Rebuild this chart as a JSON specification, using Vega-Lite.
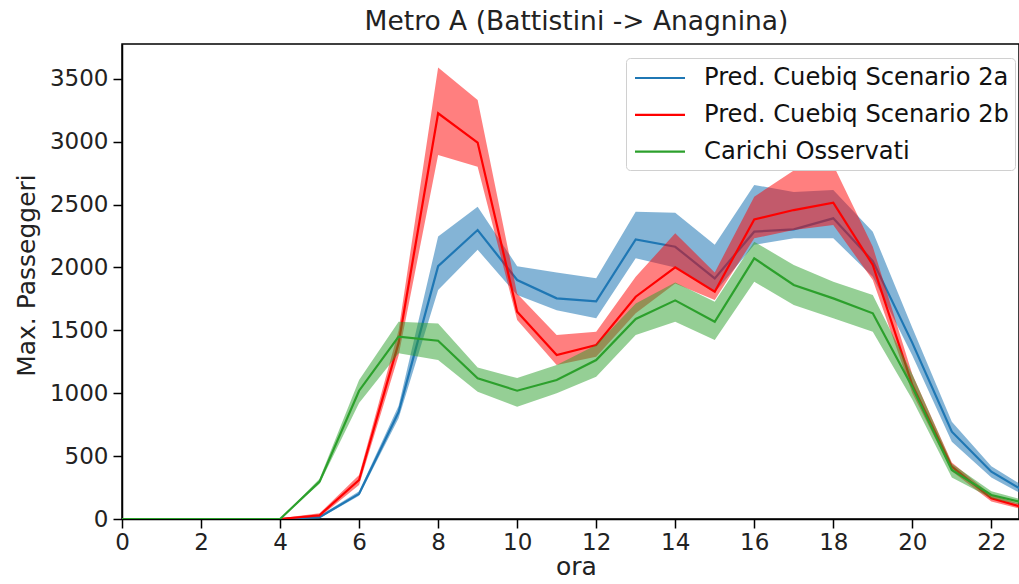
{
  "$schema": "https://vega.github.io/schema/vega-lite/v6.json",
  "width": 897,
  "height": 475,
  "autosize": {"type": "none"},
  "padding": {"left": 122, "top": 44, "right": 0, "bottom": 65},
  "background": "white",
  "config": {
    "font": "DejaVu Sans",
    "view": {"stroke": "black", "strokeWidth": 1.5},
    "axis": {
      "domainColor": "black", "domainWidth": 1.5, "tickColor": "black", "tickWidth": 1.5, "tickSize": 9,
      "labelFontSize": 23, "labelColor": "#222", "titleFontSize": 25, "titleFontWeight": "normal", "titleColor": "#222",
      "grid": false, "labelFont": "DejaVu Sans", "titleFont": "DejaVu Sans", "format": "d"
    },
    "legend": {"labelFont": "DejaVu Sans"}
  },
  "title": {"text": "Metro A (Battistini -> Anagnina)", "fontSize": 26.5, "fontWeight": "normal", "color": "#222", "font": "DejaVu Sans", "offset": 9, "dx": 6},
  "data": {"values": [
    {"ora":0,"serie":"Pred. Cuebiq Scenario 2a","v":0,"lo":0,"hi":0},
    {"ora":1,"serie":"Pred. Cuebiq Scenario 2a","v":0,"lo":0,"hi":0},
    {"ora":2,"serie":"Pred. Cuebiq Scenario 2a","v":0,"lo":0,"hi":0},
    {"ora":3,"serie":"Pred. Cuebiq Scenario 2a","v":0,"lo":0,"hi":0},
    {"ora":4,"serie":"Pred. Cuebiq Scenario 2a","v":0,"lo":0,"hi":5},
    {"ora":5,"serie":"Pred. Cuebiq Scenario 2a","v":15,"lo":5,"hi":25},
    {"ora":6,"serie":"Pred. Cuebiq Scenario 2a","v":200,"lo":185,"hi":220},
    {"ora":7,"serie":"Pred. Cuebiq Scenario 2a","v":850,"lo":800,"hi":900},
    {"ora":8,"serie":"Pred. Cuebiq Scenario 2a","v":2010,"lo":1820,"hi":2245},
    {"ora":9,"serie":"Pred. Cuebiq Scenario 2a","v":2297,"lo":2140,"hi":2483},
    {"ora":10,"serie":"Pred. Cuebiq Scenario 2a","v":1900,"lo":1780,"hi":2010},
    {"ora":11,"serie":"Pred. Cuebiq Scenario 2a","v":1754,"lo":1660,"hi":1960},
    {"ora":12,"serie":"Pred. Cuebiq Scenario 2a","v":1730,"lo":1595,"hi":1913},
    {"ora":13,"serie":"Pred. Cuebiq Scenario 2a","v":2223,"lo":2072,"hi":2443},
    {"ora":14,"serie":"Pred. Cuebiq Scenario 2a","v":2164,"lo":2000,"hi":2435},
    {"ora":15,"serie":"Pred. Cuebiq Scenario 2a","v":1913,"lo":1800,"hi":2180},
    {"ora":16,"serie":"Pred. Cuebiq Scenario 2a","v":2284,"lo":2180,"hi":2655},
    {"ora":17,"serie":"Pred. Cuebiq Scenario 2a","v":2303,"lo":2231,"hi":2600},
    {"ora":18,"serie":"Pred. Cuebiq Scenario 2a","v":2390,"lo":2231,"hi":2615},
    {"ora":19,"serie":"Pred. Cuebiq Scenario 2a","v":2050,"lo":1926,"hi":2284},
    {"ora":20,"serie":"Pred. Cuebiq Scenario 2a","v":1400,"lo":1300,"hi":1520},
    {"ora":21,"serie":"Pred. Cuebiq Scenario 2a","v":694,"lo":614,"hi":773},
    {"ora":22,"serie":"Pred. Cuebiq Scenario 2a","v":376,"lo":330,"hi":420},
    {"ora":23,"serie":"Pred. Cuebiq Scenario 2a","v":190,"lo":160,"hi":225},
    {"ora":0,"serie":"Pred. Cuebiq Scenario 2b","v":0,"lo":0,"hi":0},
    {"ora":1,"serie":"Pred. Cuebiq Scenario 2b","v":0,"lo":0,"hi":0},
    {"ora":2,"serie":"Pred. Cuebiq Scenario 2b","v":0,"lo":0,"hi":0},
    {"ora":3,"serie":"Pred. Cuebiq Scenario 2b","v":0,"lo":0,"hi":0},
    {"ora":4,"serie":"Pred. Cuebiq Scenario 2b","v":0,"lo":0,"hi":5},
    {"ora":5,"serie":"Pred. Cuebiq Scenario 2b","v":30,"lo":15,"hi":45},
    {"ora":6,"serie":"Pred. Cuebiq Scenario 2b","v":310,"lo":270,"hi":350},
    {"ora":7,"serie":"Pred. Cuebiq Scenario 2b","v":1400,"lo":1300,"hi":1500},
    {"ora":8,"serie":"Pred. Cuebiq Scenario 2b","v":3225,"lo":2893,"hi":3590},
    {"ora":9,"serie":"Pred. Cuebiq Scenario 2b","v":2992,"lo":2800,"hi":3331},
    {"ora":10,"serie":"Pred. Cuebiq Scenario 2b","v":1648,"lo":1582,"hi":1790},
    {"ora":11,"serie":"Pred. Cuebiq Scenario 2b","v":1304,"lo":1224,"hi":1463},
    {"ora":12,"serie":"Pred. Cuebiq Scenario 2b","v":1383,"lo":1290,"hi":1489},
    {"ora":13,"serie":"Pred. Cuebiq Scenario 2b","v":1767,"lo":1635,"hi":1926},
    {"ora":14,"serie":"Pred. Cuebiq Scenario 2b","v":2001,"lo":1873,"hi":2271},
    {"ora":15,"serie":"Pred. Cuebiq Scenario 2b","v":1807,"lo":1741,"hi":1960},
    {"ora":16,"serie":"Pred. Cuebiq Scenario 2b","v":2382,"lo":2231,"hi":2562},
    {"ora":17,"serie":"Pred. Cuebiq Scenario 2b","v":2456,"lo":2297,"hi":2770},
    {"ora":18,"serie":"Pred. Cuebiq Scenario 2b","v":2514,"lo":2337,"hi":2814},
    {"ora":19,"serie":"Pred. Cuebiq Scenario 2b","v":2019,"lo":1900,"hi":2164},
    {"ora":20,"serie":"Pred. Cuebiq Scenario 2b","v":1065,"lo":1000,"hi":1150},
    {"ora":21,"serie":"Pred. Cuebiq Scenario 2b","v":416,"lo":380,"hi":450},
    {"ora":22,"serie":"Pred. Cuebiq Scenario 2b","v":164,"lo":140,"hi":190},
    {"ora":23,"serie":"Pred. Cuebiq Scenario 2b","v":75,"lo":60,"hi":95},
    {"ora":0,"serie":"Carichi Osservati","v":0,"lo":0,"hi":0},
    {"ora":1,"serie":"Carichi Osservati","v":0,"lo":0,"hi":0},
    {"ora":2,"serie":"Carichi Osservati","v":0,"lo":0,"hi":0},
    {"ora":3,"serie":"Carichi Osservati","v":0,"lo":0,"hi":0},
    {"ora":4,"serie":"Carichi Osservati","v":0,"lo":0,"hi":0},
    {"ora":5,"serie":"Carichi Osservati","v":297,"lo":280,"hi":320},
    {"ora":6,"serie":"Carichi Osservati","v":1020,"lo":922,"hi":1105},
    {"ora":7,"serie":"Carichi Osservati","v":1449,"lo":1317,"hi":1568},
    {"ora":8,"serie":"Carichi Osservati","v":1417,"lo":1264,"hi":1555},
    {"ora":9,"serie":"Carichi Osservati","v":1118,"lo":1012,"hi":1205},
    {"ora":10,"serie":"Carichi Osservati","v":1020,"lo":893,"hi":1120},
    {"ora":11,"serie":"Carichi Osservati","v":1105,"lo":999,"hi":1224},
    {"ora":12,"serie":"Carichi Osservati","v":1264,"lo":1131,"hi":1383},
    {"ora":13,"serie":"Carichi Osservati","v":1590,"lo":1463,"hi":1714},
    {"ora":14,"serie":"Carichi Osservati","v":1738,"lo":1568,"hi":1880},
    {"ora":15,"serie":"Carichi Osservati","v":1568,"lo":1423,"hi":1727},
    {"ora":16,"serie":"Carichi Osservati","v":2072,"lo":1886,"hi":2204},
    {"ora":17,"serie":"Carichi Osservati","v":1860,"lo":1701,"hi":2019},
    {"ora":18,"serie":"Carichi Osservati","v":1754,"lo":1595,"hi":1886},
    {"ora":19,"serie":"Carichi Osservati","v":1635,"lo":1489,"hi":1781},
    {"ora":20,"serie":"Carichi Osservati","v":1050,"lo":950,"hi":1150},
    {"ora":21,"serie":"Carichi Osservati","v":390,"lo":330,"hi":440},
    {"ora":22,"serie":"Carichi Osservati","v":191,"lo":165,"hi":220},
    {"ora":23,"serie":"Carichi Osservati","v":115,"lo":95,"hi":135}
  ]},
  "encoding": {
    "x": {"field": "ora", "type": "quantitative", "scale": {"domain": [0, 22.7], "nice": false, "zero": false},
      "axis": {"values": [0,2,4,6,8,10,12,14,16,18,20,22], "title": "ora", "labelPadding": 3, "titlePadding": 0, "titleX": 454, "labelFlush": false}},
    "y": {"field": "v", "type": "quantitative", "scale": {"domain": [0, 3776], "nice": false},
      "axis": {"values": [0,500,1000,1500,2000,2500,3000,3500], "title": "Max. Passeggeri", "labelPadding": 5, "titlePadding": 10, "titleY": 231, "labelFlush": false}},
    "color": {"field": "serie", "type": "nominal",
      "scale": {"domain": ["Pred. Cuebiq Scenario 2a", "Pred. Cuebiq Scenario 2b", "Carichi Osservati"], "range": ["#1f77b4", "#ff0000", "#2ca02c"]},
      "legend": {"title": null, "orient": "none", "legendX": 504, "legendY": 14, "symbolType": "M-2,0H2", "symbolSize": 625, "symbolStrokeWidth": 2.2,
        "labelFontSize": 24.2, "labelColor": "#111", "labelLimit": 500, "labelOffset": 44, "rowPadding": 9.8, "padding": 6,
        "fillColor": "white", "strokeColor": "#d0d0d0", "cornerRadius": 4,
        "encode": {"symbols": {"update": {"x": {"value": 28}}}}}}
  },
  "layer": [
    {"transform": [{"filter": "datum.serie === 'Pred. Cuebiq Scenario 2a'"}], "mark": {"type": "area", "opacity": 0.55, "clip": true}, "encoding": {"y": {"field": "lo", "type": "quantitative"}, "y2": {"field": "hi"}}},
    {"transform": [{"filter": "datum.serie === 'Pred. Cuebiq Scenario 2a'"}], "mark": {"type": "line", "strokeWidth": 2.2, "clip": true}},
    {"transform": [{"filter": "datum.serie === 'Pred. Cuebiq Scenario 2b'"}], "mark": {"type": "area", "opacity": 0.5, "clip": true}, "encoding": {"y": {"field": "lo", "type": "quantitative"}, "y2": {"field": "hi"}}},
    {"transform": [{"filter": "datum.serie === 'Pred. Cuebiq Scenario 2b'"}], "mark": {"type": "line", "strokeWidth": 2.2, "clip": true}},
    {"transform": [{"filter": "datum.serie === 'Carichi Osservati'"}], "mark": {"type": "area", "opacity": 0.5, "clip": true}, "encoding": {"y": {"field": "lo", "type": "quantitative"}, "y2": {"field": "hi"}}},
    {"transform": [{"filter": "datum.serie === 'Carichi Osservati'"}], "mark": {"type": "line", "strokeWidth": 2.2, "clip": true}}
  ]
}
